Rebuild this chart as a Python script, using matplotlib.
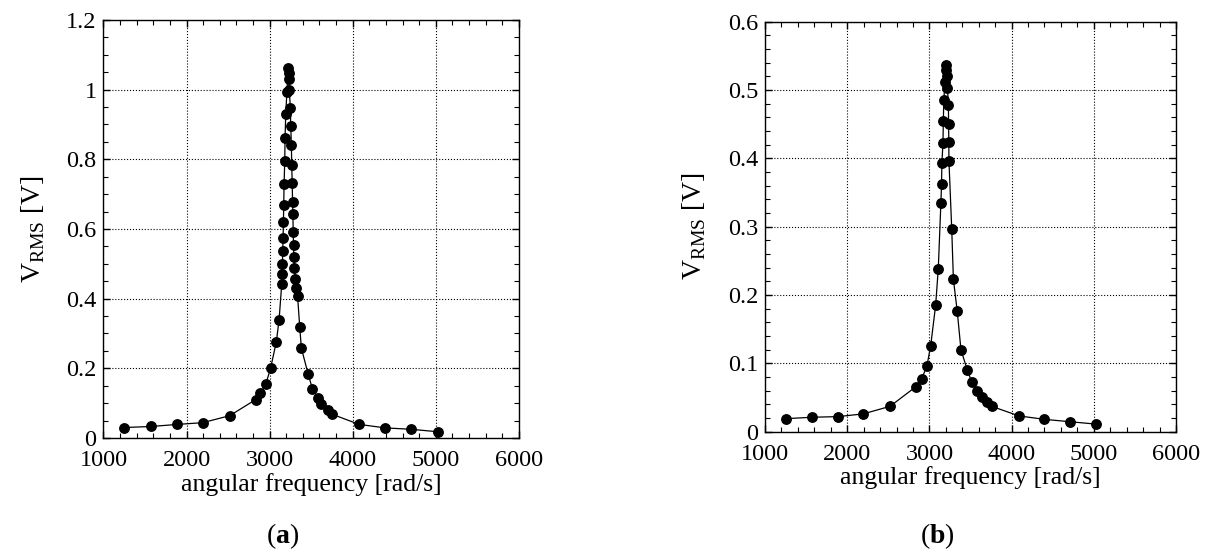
import matplotlib
matplotlib.use("Agg")
import matplotlib.pyplot as plt
from matplotlib.ticker import MultipleLocator, FuncFormatter

plt.rcParams['font.family'] = ['Liberation Serif', 'DejaVu Serif']
plt.rcParams['mathtext.fontset'] = 'custom'
plt.rcParams['mathtext.rm'] = 'Liberation Serif'
plt.rcParams['mathtext.bf'] = 'Liberation Serif:bold'

# panel (a)
f_a = [1243, 1572, 1891, 2195, 2519, 2831, 2890, 2956, 3011, 3081, 3114, 3146, 3150, 3154, 3158,
       3162, 3166, 3170, 3174, 3182, 3186, 3194, 3208, 3222, 3228, 3232, 3236, 3250, 3254, 3262,
       3266, 3272, 3276, 3280, 3284, 3288, 3292, 3298, 3306, 3320, 3336, 3362, 3382, 3462, 3514,
       3582, 3622, 3702, 3754, 4078, 4393, 4701, 5021]
V_a = [0.030, 0.033, 0.039, 0.044, 0.064, 0.110, 0.129, 0.156, 0.200, 0.276, 0.340, 0.442, 0.471, 0.500, 0.536,
       0.575, 0.620, 0.670, 0.730, 0.794, 0.861, 0.929, 0.994, 1.061, 1.047, 1.032, 0.998, 0.948, 0.896, 0.840,
       0.783, 0.733, 0.677, 0.644, 0.591, 0.553, 0.519, 0.488, 0.457, 0.431, 0.409, 0.320, 0.258, 0.185, 0.142,
       0.116, 0.097, 0.080, 0.068, 0.039, 0.029, 0.025, 0.018]

# panel (b)
f_b = [1255, 1568, 1892, 2196, 2521, 2838, 2905, 2970, 3016, 3076, 3108, 3140, 3148, 3152, 3165,
       3170, 3175, 3190, 3198, 3205, 3212, 3220, 3231, 3234, 3236, 3238, 3272, 3292, 3339, 3384,
       3461, 3515, 3583, 3636, 3705, 3758, 4090, 4398, 4710, 5027]
V_b = [0.019, 0.021, 0.022, 0.026, 0.037, 0.066, 0.077, 0.096, 0.126, 0.185, 0.238, 0.335, 0.363, 0.393, 0.422,
       0.455, 0.485, 0.512, 0.529, 0.537, 0.521, 0.503, 0.478, 0.450, 0.424, 0.396, 0.296, 0.223, 0.176, 0.120,
       0.090, 0.073, 0.060, 0.051, 0.043, 0.037, 0.023, 0.018, 0.0145, 0.011]

xlabel = "angular frequency [rad/s]"
ylabel = r"V$_{\mathrm{RMS}}$ [V]"

fig = plt.figure(figsize=(12.07, 5.54), dpi=100)
ax1 = fig.add_axes([0.0857, 0.2094, 0.3442, 0.7545])
ax2 = fig.add_axes([0.6338, 0.2209, 0.3405, 0.7397])

def fmt(v, pos):
    return "%g" % round(v, 6)

for ax, f, V, ymax, ymaj, ymin in [(ax1, f_a, V_a, 1.2, 0.2, 0.05), (ax2, f_b, V_b, 0.6, 0.1, 0.02)]:
    ax.plot(f, V, color='black', lw=0.9, marker='o', ms=6.8, mfc='black', mec='black', zorder=3)
    ax.set_xlim(1000, 6000)
    ax.set_ylim(0, ymax)
    ax.xaxis.set_major_locator(MultipleLocator(1000))
    ax.xaxis.set_minor_locator(MultipleLocator(200))
    ax.yaxis.set_major_locator(MultipleLocator(ymaj))
    ax.yaxis.set_minor_locator(MultipleLocator(ymin))
    ax.yaxis.set_major_formatter(FuncFormatter(fmt))
    ax.tick_params(which='both', direction='in', top=True, right=True, labelsize=17.5, color='black')
    ax.tick_params(which='major', length=5, width=1)
    ax.tick_params(axis='x', which='major', pad=9)
    ax.tick_params(axis='y', which='major', pad=5)
    ax.tick_params(which='minor', length=3.5, width=0.8)
    ax.grid(True, which='major', linestyle=':', color='black', linewidth=0.8)
    for s in ax.spines.values():
        s.set_linewidth(1.0)
        s.set_color('black')
    ax.set_xlabel(xlabel, fontsize=18.5, labelpad=1)
    ax.set_ylabel(ylabel, fontsize=20, labelpad=14)

fig.text(283/1207, 1 - 536/554, r"($\mathbf{a}$)", fontsize=20, ha='center', va='center')
fig.text(937/1207, 1 - 536/554, r"($\mathbf{b}$)", fontsize=20, ha='center', va='center')

fig.savefig("out.png", dpi=100)
